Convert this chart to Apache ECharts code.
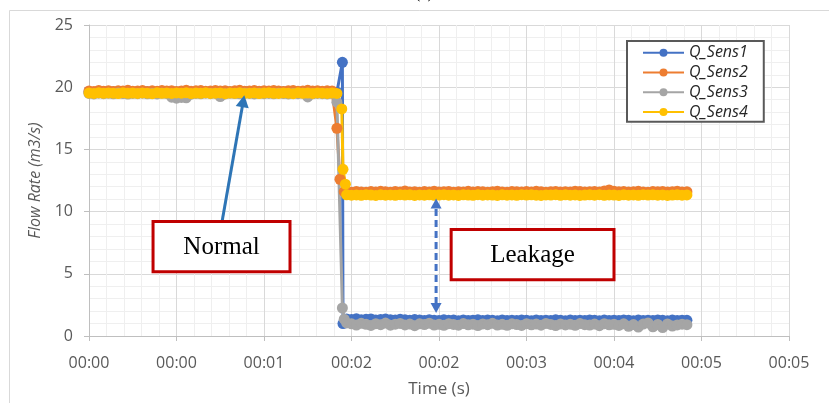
<!DOCTYPE html>
<html>
<head>
<meta charset="utf-8">
<script src="https://cdn.jsdelivr.net/npm/echarts@6/dist/echarts.min.js"></script>
<style>
  html, body { margin: 0; padding: 0; background: #fff; }
  #chart { width: 829px; height: 403px; }
</style>
</head>
<body>
<div id="chart"></div>
<script>
// Flow rate of four sensors: normal operation, then a leak just after t = 2 s.

// x-axis tick labels (mm:ss), one every TICK_STEP seconds
const tickLabels = ['00:00', '00:00', '00:01', '00:02', '00:02', '00:03', '00:04', '00:05', '00:05'];
const TICK_STEP = 0.72;   // seconds between labelled ticks
const DT = 0.04;          // sampling period (s)
const LEAK_START = 2.12;  // time of first steady leakage sample (s)

// Normal phase samples, t = 0 .. 2.00 s
const sens1Normal = [
  19.62,19.58,19.65,19.60,19.57,19.63,19.61,19.59,19.66,19.60,
  19.58,19.62,19.64,19.57,19.61,19.60,19.63,19.59,19.62,19.65,
  19.58,19.60,19.61,19.64,19.59,19.62,19.57,19.60,19.63,19.61,
  19.58,19.62,19.65,19.60,19.59,19.61,19.63,19.58,19.60,19.62,
  19.64,19.59,19.61,19.60,19.57,19.62,19.63,19.60,19.58,19.61,
  19.60];
const sens2Normal = [
  19.70,19.66,19.74,19.68,19.72,19.65,19.71,19.69,19.75,19.67,
  19.70,19.73,19.66,19.71,19.68,19.74,19.69,19.72,19.66,19.70,
  19.76,19.68,19.71,19.73,19.67,19.70,19.74,19.69,19.72,19.66,
  19.71,19.75,19.68,19.70,19.73,19.67,19.72,19.69,19.74,19.70,
  19.66,19.71,19.73,19.68,19.70,19.75,19.69,19.72,19.67,19.71,
  19.70];
const sens3Normal = [
  19.50,19.46,19.52,19.48,19.51,19.47,19.53,19.49,19.45,19.50,
  19.48,19.52,19.47,19.50,19.46,19.51,19.49,19.20,19.12,19.18,
  19.15,19.44,19.50,19.47,19.52,19.48,19.50,19.25,19.46,19.51,
  19.49,19.47,19.52,19.50,19.46,19.51,19.48,19.50,19.47,19.52,
  19.49,19.46,19.50,19.48,19.51,19.22,19.47,19.50,19.48,19.46,
  19.49];
const sens4Normal = [
  19.53,19.50,19.55,19.51,19.54,19.52,19.49,19.56,19.51,19.53,
  19.50,19.54,19.52,19.48,19.55,19.51,19.53,19.50,19.54,19.52,
  19.56,19.49,19.53,19.51,19.55,19.50,19.52,19.54,19.48,19.53,
  19.51,19.55,19.50,19.52,19.54,19.49,19.53,19.56,19.51,19.50,
  19.54,19.52,19.48,19.55,19.51,19.53,19.50,19.54,19.52,19.50,
  19.53];

// Transient samples around the leak onset: [time (s), flow]
const sens1Step = [[2.04, 19.60], [2.085, 22.0], [2.09, 1.0]];
const sens2Step = [[2.04, 16.7], [2.065, 12.6], [2.10, 11.6]];
const sens3Step = [[2.04, 18.8], [2.085, 2.25], [2.10, 1.35]];
const sens4Step = [[2.04, 19.5], [2.08, 18.25], [2.09, 13.4], [2.11, 12.2]];

// Leakage phase samples, t = 2.12 .. 4.92 s
const sens1Leak = [
  1.36,1.32,1.38,1.30,1.34,1.37,1.29,1.33,1.36,1.31,
  1.28,1.34,1.30,1.26,1.32,1.29,1.25,1.31,1.27,1.24,
  1.30,1.26,1.28,1.23,1.29,1.25,1.27,1.30,1.24,1.28,
  1.26,1.22,1.29,1.25,1.27,1.24,1.28,1.26,1.23,1.29,
  1.25,1.27,1.24,1.30,1.26,1.23,1.28,1.25,1.27,1.24,
  1.29,1.26,1.23,1.28,1.25,1.27,1.24,1.29,1.26,1.23,
  1.28,1.25,1.27,1.24,1.29,1.26,1.23,1.28,1.25,1.27,
  1.26];
const sens2Leak = [
  11.60,11.56,11.62,11.58,11.55,11.61,11.57,11.63,11.59,11.56,
  11.62,11.58,11.66,11.57,11.60,11.55,11.61,11.58,11.64,11.57,
  11.59,11.62,11.56,11.60,11.58,11.63,11.57,11.61,11.59,11.55,
  11.60,11.64,11.58,11.56,11.62,11.59,11.57,11.61,11.58,11.63,
  11.60,11.56,11.59,11.62,11.57,11.60,11.58,11.64,11.61,11.57,
  11.59,11.62,11.58,11.66,11.74,11.63,11.59,11.61,11.57,11.60,
  11.63,11.58,11.56,11.61,11.59,11.62,11.57,11.60,11.64,11.58,
  11.60];
const sens3Leak = [
  1.05,0.98,0.88,1.02,0.94,0.85,0.99,0.91,1.04,0.87,
  0.95,1.01,0.89,0.96,0.83,0.98,0.92,1.03,0.88,0.94,
  0.86,0.99,0.93,0.87,1.00,0.90,0.95,0.84,0.97,0.91,
  1.02,0.88,0.94,0.86,0.98,0.92,0.85,0.99,0.90,0.96,
  0.87,1.01,0.93,0.84,0.97,0.89,0.95,0.86,1.00,0.91,
  0.88,0.96,0.83,0.99,0.90,0.94,0.85,0.98,0.78,0.92,
  0.72,0.96,1.05,0.74,0.93,0.68,0.97,0.80,0.89,0.95,
  0.91];
const sens4Leak = [
  11.35,11.32,11.34,11.31,11.36,11.33,11.30,11.35,11.32,11.34,
  11.31,11.36,11.33,11.35,11.30,11.34,11.32,11.35,11.31,11.33,
  11.36,11.32,11.34,11.30,11.35,11.33,11.31,11.36,11.32,11.34,
  11.33,11.30,11.35,11.32,11.34,11.31,11.36,11.33,11.35,11.32,
  11.30,11.34,11.33,11.36,11.31,11.35,11.32,11.34,11.30,11.33,
  11.35,11.32,11.36,11.31,11.34,11.33,11.30,11.35,11.32,11.34,
  11.31,11.36,11.33,11.35,11.32,11.34,11.30,11.33,11.35,11.32,
  11.34];

const seriesNames = ['Q_Sens1', 'Q_Sens2', 'Q_Sens3', 'Q_Sens4'];
const seriesColors = ['#4472c4', '#ed7d31', '#a5a5a5', '#ffc000'];

// Annotation anchors in data space [time (s), flow]
const normalArrow = { from: [1.095, 9.2], to: [1.278, 19.35] };
const leakArrow = { from: [2.856, 1.85], to: [2.856, 11.05] };
const normalBox = { text: 'Normal', topLeft: [0.527, 9.21], bottomRight: [1.654, 5.16] };
const leakBox = { text: 'Leakage', topLeft: [2.98, 8.57], bottomRight: [4.32, 4.52] };

function buildSeries(normal, step, leak) {
  const pts = normal.map((v, i) => [+(i * DT).toFixed(3), v]);
  step.forEach(p => pts.push(p));
  leak.forEach((v, i) => pts.push([+(LEAK_START + i * DT).toFixed(3), v]));
  return pts;
}

const seriesData = [
  buildSeries(sens1Normal, sens1Step, sens1Leak),
  buildSeries(sens2Normal, sens2Step, sens2Leak),
  buildSeries(sens3Normal, sens3Step, sens3Leak),
  buildSeries(sens4Normal, sens4Step, sens4Leak)
];

const FONT = '"Open Sans", "Liberation Sans", sans-serif';
const chart = echarts.init(document.getElementById('chart'), null, { renderer: 'canvas' });

const option = {
  animation: false,
  backgroundColor: '#ffffff',
  grid: { left: 89, right: 40, top: 25, bottom: 63, containLabel: false },
  legend: {
    data: seriesNames,
    orient: 'vertical',
    left: 627,
    top: 41,
    itemWidth: 41,
    itemHeight: 10,
    itemGap: 0,
    padding: [2, 16, 0, 15],
    borderColor: '#595959',
    borderWidth: 2,
    backgroundColor: '#ffffff',
    textStyle: { fontFamily: FONT, fontStyle: 'italic', fontSize: 16, color: '#262626', lineHeight: 19.7 }
  },
  xAxis: {
    type: 'value',
    min: 0,
    max: TICK_STEP * 8,
    interval: TICK_STEP,
    name: 'Time (s)',
    nameLocation: 'middle',
    nameGap: 45,
    nameTextStyle: { fontFamily: FONT, fontSize: 17, color: '#595959' },
    axisLine: { show: true, lineStyle: { color: '#bfbfbf', width: 1 } },
    axisTick: { show: true, length: 5, lineStyle: { color: '#bfbfbf' } },
    axisLabel: {
      fontFamily: FONT, fontSize: 16, color: '#595959', margin: 19,
      formatter: v => tickLabels[Math.round(v / TICK_STEP)] || ''
    },
    splitLine: { show: true, lineStyle: { color: '#d9d9d9', width: 1 } },
    minorTick: { show: false, splitNumber: 5 },
    minorSplitLine: { show: true, lineStyle: { color: '#efefef', width: 1 } }
  },
  yAxis: {
    type: 'value',
    min: 0,
    max: 25,
    interval: 5,
    name: 'Flow Rate (m3/s)',
    nameLocation: 'middle',
    nameGap: 45,
    nameTextStyle: { fontFamily: FONT, fontStyle: 'italic', fontSize: 16, color: '#595959' },
    axisLine: { show: true, lineStyle: { color: '#bfbfbf', width: 1 } },
    axisTick: { show: true, length: 5, lineStyle: { color: '#bfbfbf' } },
    axisLabel: { fontFamily: FONT, fontSize: 16, color: '#595959', margin: 16 },
    splitLine: { show: true, lineStyle: { color: '#d9d9d9', width: 1 } },
    minorTick: { show: false, splitNumber: 5 },
    minorSplitLine: { show: true, lineStyle: { color: '#efefef', width: 1 } }
  },
  series: seriesNames.map((name, k) => ({
    name: name,
    type: 'line',
    data: seriesData[k],
    symbol: 'circle',
    symbolSize: 11,
    showAllSymbol: true,
    color: seriesColors[k],
    lineStyle: { width: 3, color: seriesColors[k] },
    itemStyle: { color: seriesColors[k] },
    emphasis: { disabled: true },
    silent: true
  }))
};

chart.setOption(option);

// Arrow: a shaft plus filled triangular head(s)
function arrowHead(tip, from, size, color) {
  const dx = tip[0] - from[0], dy = tip[1] - from[1];
  const len = Math.hypot(dx, dy);
  const ux = dx / len, uy = dy / len;
  const bx = tip[0] - ux * size, by = tip[1] - uy * size;
  const w = size * 0.55;
  return {
    type: 'polygon',
    shape: { points: [tip, [bx - uy * w, by + ux * w], [bx + uy * w, by - ux * w]] },
    style: { fill: color }
  };
}

function px(p) { return chart.convertToPixel({ gridIndex: 0 }, p); }

function boxGraphic(box) {
  const a = px(box.topLeft), b = px(box.bottomRight);
  return [
    {
      type: 'rect',
      shape: { x: a[0], y: a[1], width: b[0] - a[0], height: b[1] - a[1] },
      style: { fill: '#ffffff', stroke: '#c00000', lineWidth: 3 },
      z: 100
    },
    {
      type: 'text',
      x: (a[0] + b[0]) / 2, y: (a[1] + b[1]) / 2 + 1,
      style: {
        text: box.text, fill: '#000000', align: 'center', verticalAlign: 'middle',
        font: '25px "Liberation Serif", "DejaVu Serif", serif'
      },
      z: 101
    }
  ];
}

const nFrom = px(normalArrow.from), nTo = px(normalArrow.to);
const lFrom = px(leakArrow.from), lTo = px(leakArrow.to);

const graphics = [
  // chart-area frame
  { type: 'rect', shape: { x: 9.5, y: 10.5, width: 840, height: 420 },
    style: { fill: null, stroke: '#d9d9d9', lineWidth: 1 }, z: -10, silent: true },
  { type: 'text', x: 424, y: 2, style: { text: '(a)', font: '16px "Liberation Serif", serif',
    fill: '#000', align: 'center', verticalAlign: 'bottom' } },
  // "Normal" arrow
  { type: 'line', shape: { x1: nFrom[0], y1: nFrom[1], x2: nTo[0] - (nTo[0]-nFrom[0]) * 0.06, y2: nTo[1] - (nTo[1]-nFrom[1]) * 0.06 },
    style: { stroke: '#2e75b6', lineWidth: 3 }, z: 90 },
  Object.assign(arrowHead(nTo, nFrom, 12, '#2e75b6'), { z: 90 }),
  // "Leakage" double arrow
  { type: 'line', shape: { x1: lFrom[0], y1: lFrom[1] - 9, x2: lTo[0], y2: lTo[1] + 9 },
    style: { stroke: '#4472c4', lineWidth: 3, lineDash: [7, 4] }, z: 90 },
  Object.assign(arrowHead(lTo, lFrom, 10, '#4472c4'), { z: 90 }),
  Object.assign(arrowHead(lFrom, lTo, 10, '#4472c4'), { z: 90 })
].concat(boxGraphic(normalBox), boxGraphic(leakBox));

chart.setOption({ graphic: graphics });
</script>
</body>
</html>
